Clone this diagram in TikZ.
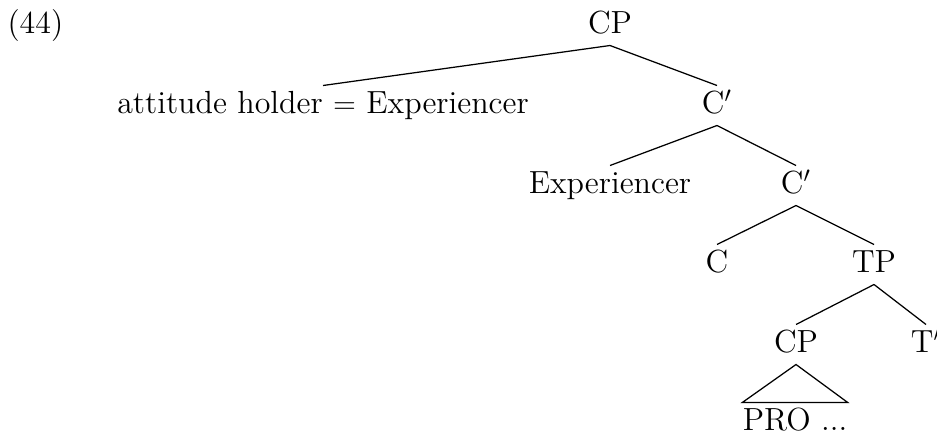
\documentclass[tikz,border=0pt]{standalone}
\begin{document}
\begin{tikzpicture}[x=0.4pt,y=-0.4pt,
  lbl/.style={anchor=base,inner xsep=0pt,inner ysep=0pt,
    text height=10.8pt,text depth=4.8pt,font=\fontsize{12.8}{15}\selectfont},
  edge/.style={draw,line width=0.5pt}]
  \useasboundingbox (0,0) rectangle (937,434);
  \clip (0,0) rectangle (937,434);
  % example number
  \node[lbl,anchor=base west] (ex) at (7,33) {(44)};
  % tree nodes
  \node[lbl] (cp)  at (610,33)  {CP};
  \node[lbl] (att) at (323,113) {attitude holder $=$ Experiencer};
  \node[lbl] (c1)  at (717,113) {C$'$};
  \node[lbl] (exp) at (610,193) {Experiencer};
  \node[lbl] (c2)  at (796,193) {C$'$};
  \node[lbl] (c)   at (717,272) {C};
  \node[lbl] (tp)  at (874,272) {TP};
  \node[lbl] (cp2) at (796,352) {CP};
  \node[lbl] (tb)  at (926,352) {T$'$};
  \node[lbl,text depth=1.2pt] (pro) at (795,430) {PRO ...};
  % branches
  \draw[edge] (cp.south) -- (att.north);
  \draw[edge] (cp.south) -- (c1.north);
  \draw[edge] (c1.south) -- (exp.north);
  \draw[edge] (c1.south) -- (c2.north);
  \draw[edge] (c2.south) -- (c.north);
  \draw[edge] (c2.south) -- (tp.north);
  \draw[edge] (tp.south) -- (cp2.north);
  \draw[edge] (tp.south) -- (tb.north);
  % roof over the embedded CP
  \draw[edge] (cp2.south) -- (pro.north west) -- (pro.north east) -- cycle;
\end{tikzpicture}
\end{document}
